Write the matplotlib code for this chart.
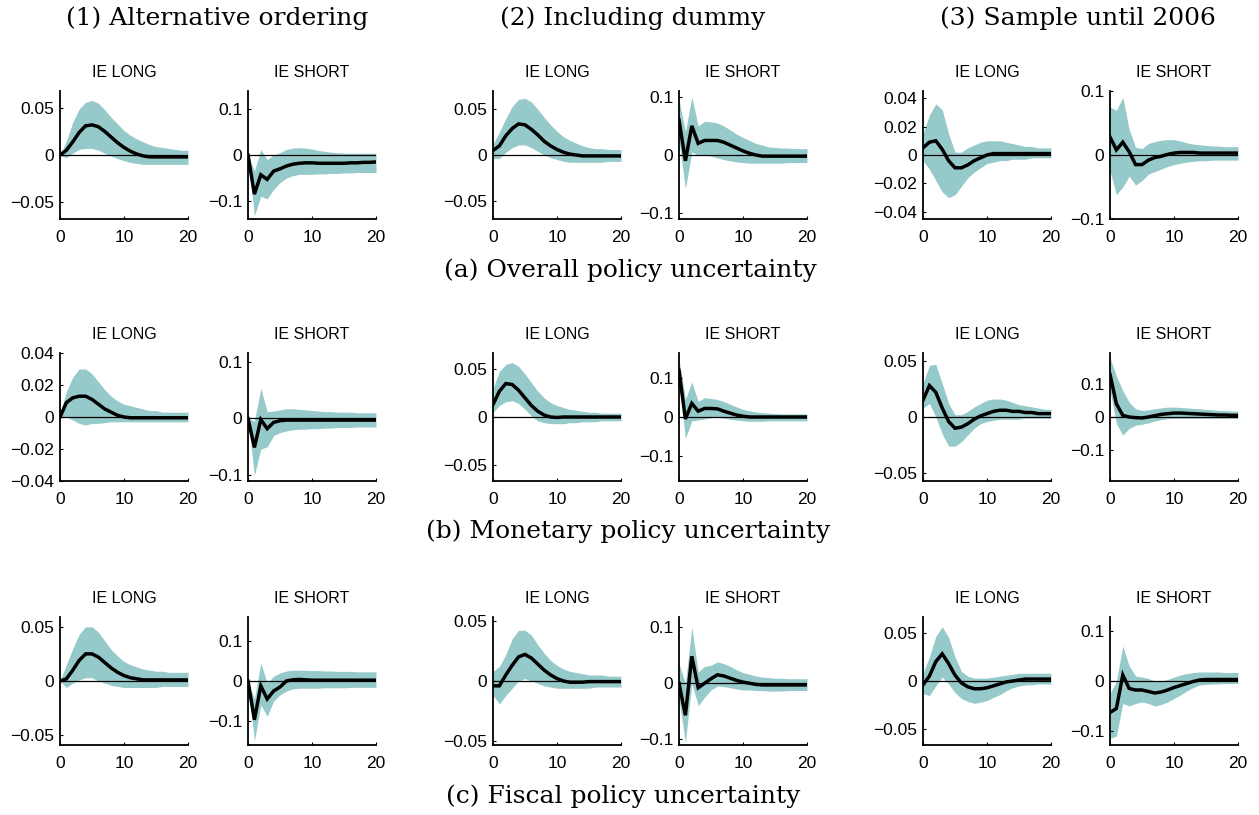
import numpy as np
import matplotlib
matplotlib.use("Agg")
import matplotlib.pyplot as plt

# horizons 0..20
horizon = np.arange(21)

# ---- (a) Overall policy uncertainty ----
a1_long_med = [0, 0.005, 0.014, 0.024, 0.031, 0.032, 0.030, 0.025, 0.019, 0.013, 0.008, 0.004, 0.001, -0.001, -0.002, -0.002, -0.002, -0.002, -0.002, -0.002, -0.002]
a1_long_hi = [0, 0.015, 0.035, 0.049, 0.056, 0.058, 0.055, 0.048, 0.040, 0.033, 0.026, 0.021, 0.017, 0.014, 0.011, 0.009, 0.008, 0.007, 0.006, 0.005, 0.005]
a1_long_lo = [0, -0.003, 0.002, 0.006, 0.007, 0.007, 0.005, 0.002, -0.001, -0.004, -0.006, -0.008, -0.009, -0.010, -0.010, -0.010, -0.010, -0.010, -0.010, -0.010, -0.010]

a1_short_med = [0, -0.085, -0.043, -0.053, -0.035, -0.030, -0.024, -0.020, -0.018, -0.017, -0.017, -0.018, -0.018, -0.018, -0.018, -0.018, -0.017, -0.017, -0.016, -0.016, -0.015]
a1_short_hi = [0, -0.035, 0.012, -0.010, 0.000, 0.005, 0.012, 0.015, 0.016, 0.015, 0.013, 0.010, 0.008, 0.006, 0.005, 0.004, 0.004, 0.004, 0.004, 0.004, 0.004]
a1_short_lo = [0, -0.132, -0.090, -0.095, -0.075, -0.060, -0.050, -0.045, -0.042, -0.042, -0.042, -0.041, -0.041, -0.040, -0.040, -0.039, -0.039, -0.038, -0.038, -0.038, -0.038]

a2_long_med = [0.005, 0.010, 0.021, 0.029, 0.034, 0.033, 0.028, 0.022, 0.015, 0.010, 0.006, 0.003, 0.001, 0.000, -0.001, -0.001, -0.001, -0.001, -0.001, -0.001, -0.001]
a2_long_hi = [0.012, 0.025, 0.040, 0.053, 0.061, 0.062, 0.058, 0.050, 0.041, 0.033, 0.026, 0.020, 0.016, 0.013, 0.010, 0.008, 0.007, 0.007, 0.006, 0.006, 0.006]
a2_long_lo = [-0.004, -0.004, 0.003, 0.008, 0.011, 0.011, 0.008, 0.004, 0.000, -0.003, -0.005, -0.007, -0.008, -0.008, -0.008, -0.008, -0.008, -0.008, -0.007, -0.007, -0.007]

a2_short_med = [0.060, -0.010, 0.050, 0.020, 0.025, 0.025, 0.025, 0.022, 0.017, 0.012, 0.007, 0.003, 0.000, -0.002, -0.002, -0.002, -0.002, -0.002, -0.002, -0.002, -0.002]
a2_short_hi = [0.095, 0.040, 0.100, 0.050, 0.058, 0.057, 0.055, 0.050, 0.043, 0.036, 0.030, 0.025, 0.020, 0.017, 0.014, 0.013, 0.012, 0.012, 0.011, 0.011, 0.011]
a2_short_lo = [0.025, -0.058, 0.005, 0.000, 0.000, -0.002, -0.005, -0.008, -0.010, -0.012, -0.013, -0.014, -0.014, -0.014, -0.014, -0.014, -0.014, -0.013, -0.013, -0.013, -0.013]

a3_long_med = [0.005, 0.009, 0.010, 0.004, -0.004, -0.009, -0.009, -0.007, -0.004, -0.002, 0.000, 0.001, 0.001, 0.001, 0.001, 0.001, 0.001, 0.001, 0.001, 0.001, 0.001]
a3_long_hi = [0.015, 0.028, 0.036, 0.032, 0.015, 0.002, 0.002, 0.005, 0.007, 0.009, 0.010, 0.010, 0.010, 0.009, 0.008, 0.007, 0.006, 0.006, 0.005, 0.005, 0.005]
a3_long_lo = [-0.004, -0.010, -0.018, -0.026, -0.030, -0.028, -0.022, -0.016, -0.012, -0.009, -0.006, -0.005, -0.004, -0.004, -0.003, -0.003, -0.003, -0.002, -0.002, -0.002, -0.002]

a3_short_med = [0.028, 0.008, 0.020, 0.005, -0.015, -0.015, -0.008, -0.004, -0.002, 0.001, 0.003, 0.004, 0.004, 0.004, 0.003, 0.003, 0.003, 0.003, 0.003, 0.003, 0.003]
a3_short_hi = [0.075, 0.070, 0.090, 0.040, 0.012, 0.010, 0.018, 0.021, 0.023, 0.024, 0.024, 0.022, 0.019, 0.017, 0.016, 0.015, 0.014, 0.014, 0.013, 0.013, 0.013]
a3_short_lo = [-0.025, -0.062, -0.050, -0.033, -0.047, -0.040, -0.030, -0.026, -0.022, -0.018, -0.015, -0.013, -0.011, -0.010, -0.009, -0.009, -0.008, -0.008, -0.008, -0.008, -0.008]

# ---- (b) Monetary policy uncertainty ----
b1_long_med = [0, 0.009, 0.012, 0.013, 0.013, 0.011, 0.008, 0.005, 0.003, 0.001, 0.000, -0.0005, -0.0005, -0.0005, -0.0005, -0.0005, -0.0005, -0.0005, -0.0005, -0.0005, -0.0005]
b1_long_hi = [0.002, 0.016, 0.025, 0.030, 0.030, 0.027, 0.022, 0.017, 0.013, 0.010, 0.008, 0.007, 0.006, 0.005, 0.004, 0.004, 0.003, 0.003, 0.003, 0.003, 0.003]
b1_long_lo = [0, 0.000, -0.002, -0.004, -0.005, -0.004, -0.004, -0.0035, -0.003, -0.003, -0.003, -0.003, -0.003, -0.003, -0.003, -0.003, -0.003, -0.003, -0.003, -0.003, -0.003]

b1_short_med = [0, -0.051, -0.002, -0.018, -0.007, -0.004, -0.003, -0.003, -0.003, -0.003, -0.003, -0.003, -0.003, -0.003, -0.003, -0.003, -0.003, -0.003, -0.003, -0.003, -0.003]
b1_short_hi = [0, -0.005, 0.053, 0.012, 0.013, 0.015, 0.017, 0.017, 0.016, 0.015, 0.014, 0.013, 0.012, 0.012, 0.011, 0.011, 0.011, 0.010, 0.010, 0.010, 0.010]
b1_short_lo = [0, -0.100, -0.054, -0.050, -0.030, -0.025, -0.022, -0.020, -0.019, -0.019, -0.018, -0.018, -0.017, -0.017, -0.016, -0.016, -0.016, -0.015, -0.015, -0.015, -0.015]

b2_long_med = [0.013, 0.027, 0.035, 0.034, 0.028, 0.020, 0.012, 0.006, 0.002, 0.000, -0.0005, 0, 0, 0, 0, 0, 0, 0, 0, 0, 0]
b2_long_hi = [0.030, 0.048, 0.055, 0.057, 0.053, 0.045, 0.036, 0.027, 0.020, 0.015, 0.012, 0.010, 0.008, 0.007, 0.006, 0.005, 0.005, 0.004, 0.004, 0.004, 0.004]
b2_long_lo = [0.005, 0.012, 0.016, 0.017, 0.014, 0.008, 0.001, -0.004, -0.006, -0.007, -0.007, -0.007, -0.006, -0.006, -0.005, -0.005, -0.005, -0.004, -0.004, -0.004, -0.004]

b2_short_med = [0.120, -0.005, 0.035, 0.015, 0.022, 0.022, 0.021, 0.015, 0.010, 0.005, 0.002, 0.000, 0, 0, 0, 0, 0, 0, 0, 0, 0]
b2_short_hi = [0.150, 0.045, 0.090, 0.040, 0.050, 0.048, 0.045, 0.040, 0.033, 0.026, 0.020, 0.016, 0.013, 0.011, 0.010, 0.009, 0.008, 0.008, 0.008, 0.008, 0.008]
b2_short_lo = [0.090, -0.055, -0.010, -0.008, -0.005, -0.002, 0.000, -0.003, -0.006, -0.008, -0.010, -0.011, -0.011, -0.011, -0.010, -0.010, -0.010, -0.010, -0.010, -0.010, -0.010]

b3_long_med = [0.015, 0.028, 0.022, 0.008, -0.004, -0.010, -0.009, -0.006, -0.002, 0.001, 0.003, 0.005, 0.006, 0.006, 0.005, 0.005, 0.004, 0.004, 0.003, 0.003, 0.003]
b3_long_hi = [0.030, 0.046, 0.047, 0.030, 0.012, 0.002, 0.002, 0.005, 0.009, 0.012, 0.015, 0.016, 0.016, 0.015, 0.013, 0.011, 0.010, 0.009, 0.008, 0.007, 0.007]
b3_long_lo = [0.008, 0.012, 0.000, -0.015, -0.026, -0.026, -0.022, -0.016, -0.010, -0.006, -0.004, -0.003, -0.002, -0.002, -0.002, -0.002, -0.001, -0.001, -0.001, -0.001, -0.001]

b3_short_med = [0.130, 0.040, 0.005, 0.000, -0.002, -0.003, 0.000, 0.004, 0.008, 0.010, 0.012, 0.012, 0.011, 0.010, 0.009, 0.008, 0.007, 0.006, 0.006, 0.005, 0.005]
b3_short_hi = [0.180, 0.125, 0.080, 0.045, 0.025, 0.020, 0.022, 0.025, 0.028, 0.030, 0.030, 0.029, 0.028, 0.026, 0.025, 0.023, 0.022, 0.020, 0.019, 0.018, 0.018]
b3_short_lo = [0.080, -0.020, -0.055, -0.035, -0.025, -0.022, -0.018, -0.012, -0.008, -0.005, -0.004, -0.004, -0.004, -0.004, -0.004, -0.004, -0.004, -0.004, -0.004, -0.004, -0.004]

# ---- (c) Fiscal policy uncertainty ----
c1_long_med = [0, 0.002, 0.010, 0.019, 0.025, 0.025, 0.022, 0.017, 0.012, 0.008, 0.005, 0.003, 0.002, 0.001, 0.001, 0.001, 0.001, 0.001, 0.001, 0.001, 0.001]
c1_long_hi = [0, 0.015, 0.030, 0.043, 0.050, 0.050, 0.045, 0.037, 0.029, 0.023, 0.018, 0.015, 0.013, 0.011, 0.010, 0.009, 0.009, 0.008, 0.008, 0.008, 0.008]
c1_long_lo = [0, -0.006, -0.002, 0.001, 0.003, 0.003, 0.000, -0.002, -0.004, -0.005, -0.006, -0.006, -0.006, -0.006, -0.006, -0.006, -0.005, -0.005, -0.005, -0.005, -0.005]

c1_short_med = [0, -0.097, -0.012, -0.045, -0.025, -0.015, 0.000, 0.003, 0.004, 0.003, 0.002, 0.002, 0.002, 0.002, 0.002, 0.002, 0.002, 0.002, 0.002, 0.002, 0.002]
c1_short_hi = [0, -0.045, 0.045, -0.005, 0.012, 0.020, 0.025, 0.027, 0.027, 0.027, 0.026, 0.026, 0.025, 0.025, 0.024, 0.024, 0.024, 0.023, 0.023, 0.023, 0.023]
c1_short_lo = [0, -0.150, -0.060, -0.088, -0.050, -0.035, -0.025, -0.020, -0.018, -0.018, -0.018, -0.018, -0.017, -0.017, -0.017, -0.017, -0.016, -0.016, -0.016, -0.016, -0.016]

c2_long_med = [-0.004, -0.004, 0.005, 0.013, 0.020, 0.022, 0.019, 0.014, 0.009, 0.005, 0.002, 0.000, -0.001, -0.001, -0.001, -0.0005, -0.0005, -0.0005, -0.0005, -0.0005, -0.0005]
c2_long_hi = [0.008, 0.012, 0.022, 0.035, 0.042, 0.042, 0.038, 0.030, 0.023, 0.017, 0.013, 0.010, 0.008, 0.007, 0.006, 0.005, 0.005, 0.005, 0.004, 0.004, 0.004]
c2_long_lo = [-0.012, -0.019, -0.012, -0.006, 0.000, 0.002, 0.000, -0.002, -0.004, -0.005, -0.006, -0.006, -0.006, -0.006, -0.006, -0.006, -0.005, -0.005, -0.005, -0.005, -0.005]

c2_short_med = [0.000, -0.057, 0.048, -0.008, 0.000, 0.008, 0.015, 0.013, 0.009, 0.005, 0.002, 0.000, -0.002, -0.003, -0.003, -0.003, -0.003, -0.003, -0.003, -0.003, -0.003]
c2_short_hi = [0.035, 0.000, 0.100, 0.020, 0.030, 0.032, 0.038, 0.035, 0.030, 0.024, 0.019, 0.016, 0.013, 0.011, 0.010, 0.009, 0.009, 0.008, 0.008, 0.008, 0.008]
c2_short_lo = [-0.030, -0.105, 0.000, -0.040, -0.025, -0.012, -0.005, -0.006, -0.008, -0.010, -0.012, -0.012, -0.013, -0.013, -0.014, -0.014, -0.014, -0.013, -0.013, -0.013, -0.013]

c3_long_med = [-0.004, 0.005, 0.020, 0.028, 0.018, 0.006, -0.002, -0.006, -0.008, -0.008, -0.007, -0.005, -0.003, -0.001, 0.000, 0.001, 0.002, 0.002, 0.002, 0.002, 0.002]
c3_long_hi = [0.008, 0.025, 0.046, 0.056, 0.045, 0.025, 0.010, 0.005, 0.003, 0.003, 0.003, 0.004, 0.005, 0.006, 0.007, 0.008, 0.008, 0.008, 0.008, 0.008, 0.008]
c3_long_lo = [-0.013, -0.015, -0.005, 0.004, -0.003, -0.012, -0.018, -0.021, -0.023, -0.022, -0.020, -0.017, -0.014, -0.010, -0.007, -0.005, -0.004, -0.004, -0.003, -0.003, -0.003]

c3_short_med = [-0.063, -0.055, 0.012, -0.015, -0.018, -0.018, -0.021, -0.024, -0.022, -0.018, -0.013, -0.009, -0.005, -0.001, 0.002, 0.003, 0.003, 0.003, 0.003, 0.003, 0.003]
c3_short_hi = [-0.025, 0.000, 0.070, 0.030, 0.010, 0.008, 0.005, 0.000, 0.000, 0.003, 0.008, 0.012, 0.015, 0.017, 0.018, 0.018, 0.018, 0.018, 0.017, 0.017, 0.017]
c3_short_lo = [-0.115, -0.110, -0.045, -0.050, -0.045, -0.042, -0.045, -0.050, -0.047, -0.042, -0.035, -0.028, -0.020, -0.013, -0.008, -0.007, -0.006, -0.006, -0.005, -0.005, -0.005]

col_headers = ["(1) Alternative ordering", "(2) Including dummy", "(3) Sample until 2006"]
row_captions = ["(a) Overall policy uncertainty", "(b) Monetary policy uncertainty",
                "(c) Fiscal policy uncertainty"]
panel_titles = ["IE LONG", "IE SHORT"]

# y-limits and y-ticks per panel, row by row, left to right
ylims = [
    [0.068, 0.139, 0.070, 0.110, 0.045, 0.100],
    [(-0.04, 0.04), (-0.11, 0.115), 0.067, 0.165, 0.057, 0.195],
    [0.059, 0.160, 0.053, (-0.11, 0.118), 0.066, 0.128],
]
yticks = [
    [[-0.05, 0, 0.05], [-0.1, 0, 0.1], [-0.05, 0, 0.05], [-0.1, 0, 0.1],
     [-0.04, -0.02, 0, 0.02, 0.04], [-0.1, 0, 0.1]],
    [[-0.04, -0.02, 0, 0.02, 0.04], [-0.1, 0, 0.1], [-0.05, 0, 0.05], [-0.1, 0, 0.1],
     [-0.05, 0, 0.05], [-0.1, 0, 0.1]],
    [[-0.05, 0, 0.05], [-0.1, 0, 0.1], [-0.05, 0, 0.05], [-0.1, 0, 0.1],
     [-0.05, 0, 0.05], [-0.1, 0, 0.1]],
]

panels = [
    [(a1_long_med, a1_long_lo, a1_long_hi), (a1_short_med, a1_short_lo, a1_short_hi),
     (a2_long_med, a2_long_lo, a2_long_hi), (a2_short_med, a2_short_lo, a2_short_hi),
     (a3_long_med, a3_long_lo, a3_long_hi), (a3_short_med, a3_short_lo, a3_short_hi)],
    [(b1_long_med, b1_long_lo, b1_long_hi), (b1_short_med, b1_short_lo, b1_short_hi),
     (b2_long_med, b2_long_lo, b2_long_hi), (b2_short_med, b2_short_lo, b2_short_hi),
     (b3_long_med, b3_long_lo, b3_long_hi), (b3_short_med, b3_short_lo, b3_short_hi)],
    [(c1_long_med, c1_long_lo, c1_long_hi), (c1_short_med, c1_short_lo, c1_short_hi),
     (c2_long_med, c2_long_lo, c2_long_hi), (c2_short_med, c2_short_lo, c2_short_hi),
     (c3_long_med, c3_long_lo, c3_long_hi), (c3_short_med, c3_short_lo, c3_short_hi)],
]

BAND = "#96caca"
W, H = 1259, 815
col_left = [60, 248, 493, 679, 923, 1110]   # px
row_top = [91, 353, 617]                    # px
ax_w, ax_h = 128, 128


def tick_label(v):
    if v == 0:
        return "0"
    s = f"{abs(v):g}"
    return ("\u2212" + s) if v < 0 else s


fig = plt.figure(figsize=(W / 100, H / 100), dpi=100)
for r in range(3):
    for c in range(6):
        left = col_left[c] / W
        bottom = 1 - (row_top[r] + ax_h) / H
        ax = fig.add_axes([left, bottom, ax_w / W, ax_h / H])
        med, lo, hi = panels[r][c]
        ax.fill_between(horizon, lo, hi, color=BAND, lw=0, zorder=1)
        ax.axhline(0, color="black", lw=0.9, zorder=2)
        ax.plot(horizon, med, color="black", lw=2.5, zorder=3,
                solid_joinstyle="miter")
        lim = ylims[r][c]
        if isinstance(lim, tuple):
            ax.set_ylim(*lim)
        else:
            ax.set_ylim(-lim, lim)
        ax.set_xlim(0, 20)
        ax.set_xticks([0, 10, 20])
        ax.set_yticks(yticks[r][c])
        ax.set_yticklabels([tick_label(v) for v in yticks[r][c]])
        for s in ("top", "right"):
            ax.spines[s].set_visible(False)
        for s in ("left", "bottom"):
            ax.spines[s].set_linewidth(1.3)
        ax.tick_params(direction="in", length=2.5, width=0.8, labelsize=12.5)
        ax.tick_params(axis="x", pad=8)
        ax.tick_params(axis="y", pad=4)
        for lab in ax.get_xticklabels() + ax.get_yticklabels():
            lab.set_fontfamily("Liberation Sans")
        ax.annotate(panel_titles[c % 2], xy=(0.5, 1), xycoords="axes fraction",
                    xytext=(0, 13.5), textcoords="offset points",
                    ha="center", va="center", fontsize=11.5,
                    family="Liberation Sans")

header_x = [217, 633, 1078]
for x, txt in zip(header_x, col_headers):
    fig.text(x / W, 1 - 18 / H, txt, ha="center", va="center",
             fontsize=18, family="DejaVu Serif")

caption_pos = [(630, 270), (628, 531), (623, 796)]
for (x, y), txt in zip(caption_pos, row_captions):
    fig.text(x / W, 1 - y / H, txt, ha="center", va="center",
             fontsize=18, family="DejaVu Serif")

fig.savefig("out.png", dpi=100, facecolor="white")
